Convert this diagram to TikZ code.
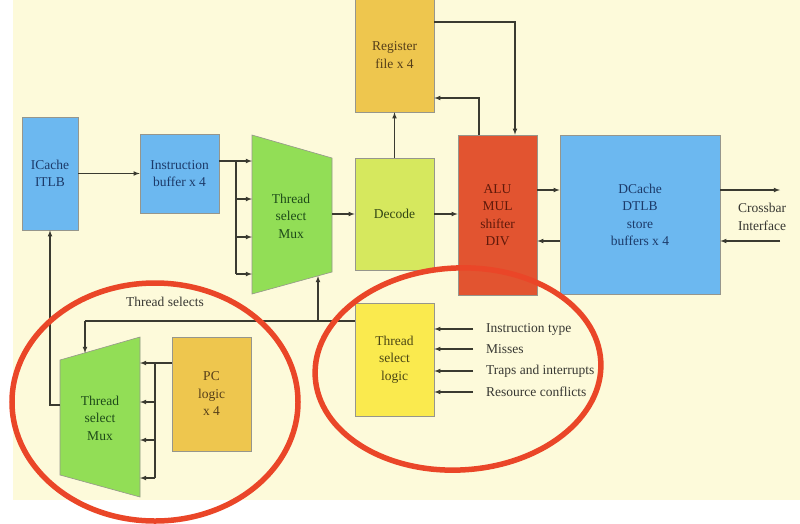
\documentclass[tikz,border=0pt]{standalone}
\usepackage{fontspec}
\setmainfont{Liberation Serif}
\usetikzlibrary{arrows}

\definecolor{bgyellow}{RGB}{253,250,218}
\definecolor{boxblue}{RGB}{108,184,240}
\definecolor{muxgreen}{RGB}{146,222,86}
\definecolor{decgreen}{RGB}{214,232,94}
\definecolor{regorange}{RGB}{238,198,78}
\definecolor{alured}{RGB}{226,84,48}
\definecolor{tslyellow}{RGB}{250,234,78}
\definecolor{ringred}{RGB}{234,70,40}
\definecolor{wirecol}{RGB}{58,58,48}
\definecolor{bordercol}{RGB}{150,150,140}

\tikzset{
  box/.style={draw=bordercol, line width=0.6pt, align=center, inner sep=0pt,
    font=\fontsize{13.5}{17.5}\selectfont},
  bluebox/.style={box, fill=boxblue, text={rgb,255:red,28;green,58;blue,105}},
  decbox/.style={box, fill=decgreen, text={rgb,255:red,50;green,70;blue,20}},
  regbox/.style={box, fill=regorange, text={rgb,255:red,85;green,62;blue,25}},
  alubox/.style={box, fill=alured, text={rgb,255:red,95;green,25;blue,10}},
  tslbox/.style={box, fill=tslyellow, text={rgb,255:red,75;green,70;blue,20}},
  muxshape/.style={fill=muxgreen, draw=bordercol, line width=0.6pt},
  muxtext/.style={align=center, inner sep=0pt, text={rgb,255:red,30;green,75;blue,25},
    font=\fontsize{13.5}{17.5}\selectfont},
  lbl/.style={inner sep=0pt, text={rgb,255:red,55;green,55;blue,50},
    font=\fontsize{13.5}{17.5}\selectfont},
  wire/.style={draw=wirecol, line width=1.1pt},
  arr/.style={wire, -latex},
  ring/.style={draw=ringred, line width=5.5pt},
}

\begin{document}
\begin{tikzpicture}[x=1pt,y=-1pt]
\useasboundingbox (0,0) rectangle (800,523);

%Background
\fill [white] (0,0) rectangle (800,523);
\fill [bgyellow] (13,0) rectangle (800,500);

%BOXES
\node [bluebox, minimum width=56, minimum height=113] (icache) at (50,173.5) {ICache\\ITLB};
\node [bluebox, minimum width=79, minimum height=79] (ibuf) at (179.5,173.5) {Instruction\\buffer x 4};
\node [decbox, minimum width=79, minimum height=112] (decode) at (394.5,214) {Decode};
\node [regbox, minimum width=79, minimum height=114] (regfile) at (394.5,55) {Register\\file x 4};
\node [alubox, minimum width=79, minimum height=160] (alu) at (497.5,215) {ALU\\MUL\\shifter\\DIV};
\node [bluebox, minimum width=160, minimum height=159] (dcache) at (640,215) {DCache\\DTLB\\store\\buffers x 4};
\node [regbox, minimum width=79, minimum height=114] (pc) at (211.5,394) {PC\\logic\\x 4};
\node [tslbox, minimum width=79, minimum height=113] (tsl) at (394.5,359.5) {Thread\\select\\logic};

%Muxes
\coordinate (m1tl) at (252,135);
\coordinate (m1tr) at (332,158);
\coordinate (m1br) at (332,272);
\coordinate (m1bl) at (252,294);
\filldraw [muxshape] (m1tl) -- (m1tr) -- (m1br) -- (m1bl) -- cycle;
\node [muxtext] (mux1) at (291,216) {Thread\\select\\Mux};

\coordinate (m2tl) at (60,360);
\coordinate (m2tr) at (140,337);
\coordinate (m2br) at (140,497);
\coordinate (m2bl) at (60,475);
\filldraw [muxshape] (m2tl) -- (m2tr) -- (m2br) -- (m2bl) -- cycle;
\node [muxtext] (mux2) at (100,418) {Thread\\select\\Mux};

%Arrows & Labels
% Fetch
\draw [arr] (icache.east |- ibuf) -- (ibuf.west);
\coordinate (j1) at (236,161);
\draw [wire] (ibuf.east |- j1) -- (j1) -- (236,274);
\foreach \y in {161,199,237,274}
{
\draw [arr] (j1 |- 0,\y) -- (m1tl |- 0,\y);
}
\draw [arr] (m1tr |- decode.west) -- (decode.west);
\draw [arr] (decode.east) -- (decode.east -| alu.west);
\draw [arr] (decode.north) -- (regfile.south);

% Register file
\coordinate (r1) at (515,22);
\coordinate (r2) at (479,98);
\draw [arr] (regfile.east |- r1) -- (r1) -- (r1 |- alu.north);
\draw [arr] (r2 |- alu.north) -- (r2) -- (r2 -| regfile.east);

% Data side
\coordinate (xo) at (780,190);
\coordinate (xi) at (780,241);
\draw [arr] (alu.east |- xo) -- (dcache.west |- xo);
\draw [arr] (dcache.west |- xi) -- (alu.east |- xi);
\draw [arr] (dcache.east |- xo) -- (xo);
\draw [arr] (xi) -- (dcache.east |- xi);
\node [lbl, align=center] (xbar) at (762,217) {Crossbar\\Interface};

% Thread select logic
\foreach \y/\ytext in {329/Instruction type,349/Misses,371/Traps and interrupts,392/Resource conflicts}
{
\node [lbl, anchor=west] (in\y) at (486,\y) {\ytext};
\draw [arr] ([xshift=-13]in\y.west) -- (tsl.east |- in\y.west);
}
\coordinate (t1) at (318,321);
\coordinate (t2) at (85,321);
\coordinate (m1sel) at (318,276);
\coordinate (m2sel) at (85,353);
\draw [wire] (tsl.west |- t1) -- (t2);
\draw [arr] (t2) -- (m2sel);
\draw [arr] (t1) -- (m1sel);
\node [lbl] (tsel) at (165,302) {Thread selects};

% PC logic
\coordinate (p1) at (155,363);
\draw [wire] (pc.west |- p1) -- (p1) -- (155,478);
\foreach \y in {363,402,440,478}
{
\draw [arr] (p1 |- 0,\y) -- (m2tr |- 0,\y);
}
\coordinate (c1) at (50,405);
\draw [arr] (m2tl |- c1) -- (c1) -- (icache.south);

%Circles
\draw [ring] (155,402) ellipse [x radius=143pt, y radius=119pt];
\draw [ring, rotate around={3:(458,369)}] (458,369) ellipse [x radius=143pt, y radius=101pt];

\end{tikzpicture}
\end{document}
